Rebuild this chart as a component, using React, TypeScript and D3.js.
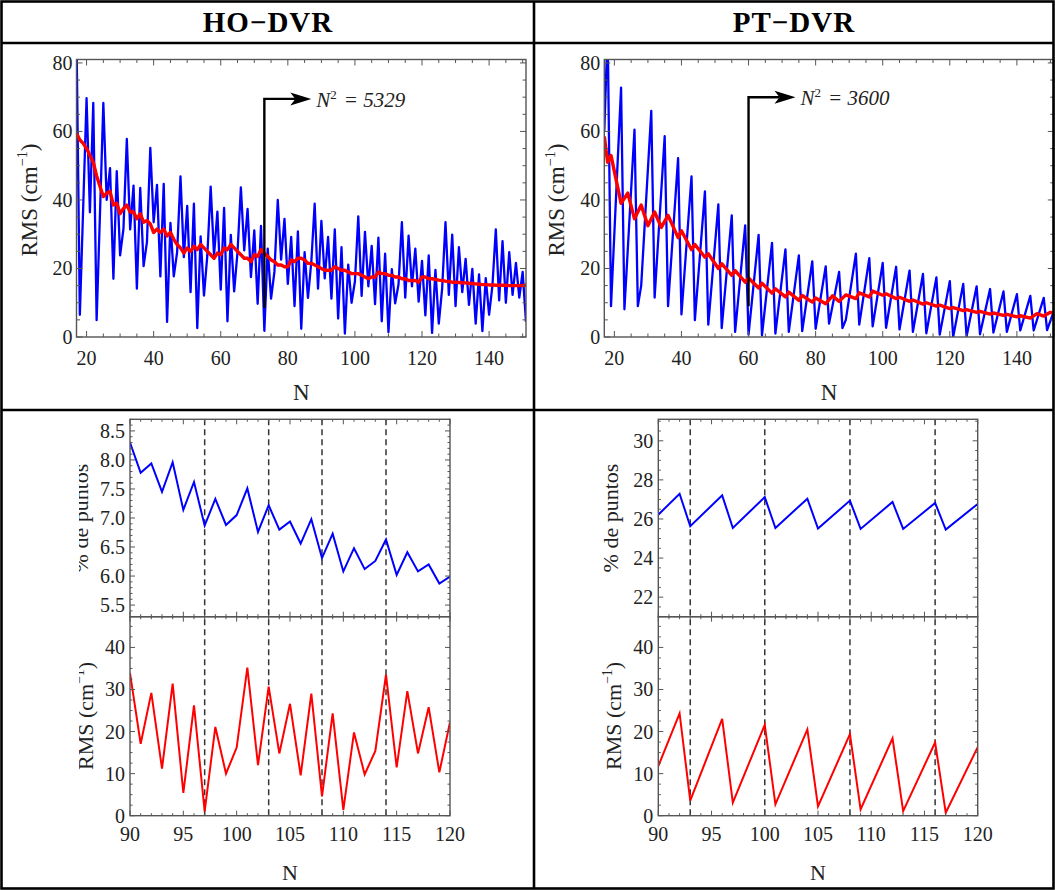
import React, { useEffect, useRef } from 'react';
import * as d3 from 'd3';

const W = 1055;
const H = 890;
const FONT = "'Liberation Serif', 'Times New Roman', serif";

// ---------- header ----------
const headers = ['HO\u2212DVR', 'PT\u2212DVR'];

// ---------- top panels (N = 17 ... 151) ----------
const hoStartN = 17;
const hoRmsAll = [
  88, 6.5, 38, 69.7, 36.4, 68.3, 4.9, 36, 68.3, 40,
  49.3, 17, 48.4, 23.8, 31.6, 57.8, 31.4, 44.2, 14.1, 43.5,
  20.7, 27.7, 55.2, 33.5, 44.4, 17.7, 44.7, 4.4, 33.3, 17.7,
  24.8, 46.9, 23.3, 38.3, 13.1, 38.9, 2.6, 29.4, 12.1, 23.8,
  43.9, 23.8, 36.6, 13.8, 37.7, 4.6, 29.8, 13.3, 24.8, 43.7,
  25.3, 37.4, 17.5, 31.1, 9.7, 32.4, 1.8, 25.8, 11.2, 19,
  40, 22.6, 34.5, 15.5, 29.2, 9, 30.8, 2.4, 24.8, 11.4,
  21.9, 38.9, 14.1, 33.9, 17.1, 29.2, 11.2, 31.4, 5.4, 26.2,
  1.0, 21.1, 10, 16.2, 35.2, 12, 30.7, 14.8, 26.6, 9.6,
  29, 4.6, 24.3, 1.4, 19.8, 9.8, 15.4, 33.5, 11.5, 29.6,
  14.8, 25.8, 10.3, 22.2, 6.3, 23.8, 1.2, 19.6, 3.9, 14.1,
  33.5, 12.3, 29.9, 9, 26.2, 13.1, 22.8, 9.4, 19.9, 3.9,
  18.3, 1.7, 17.2, 6.5, 15.1, 31.4, 10.7, 28, 10, 24.8,
  12.3, 21.6, 11.5, 19, 4.4,
];
const hoAvgAll = [
  59.5, 57.5, 56.5, 55, 53, 51, 47, 44, 41, 42,
  42.5, 38.5, 39, 36, 37.5, 38.5, 36.5, 36.5, 34.5, 36,
  33.5, 34, 33, 30.5, 31.5, 30.5, 31.5, 29.5, 30.5, 28.5,
  27, 26, 24.5, 26, 25, 26.5, 25.5, 27, 26, 25,
  24, 23, 24.5, 24, 26, 25.5, 27, 26, 25, 24,
  23, 23, 22, 24, 23.5, 25.5, 24.5, 23.5, 22.5, 22,
  21, 21, 20.5, 20.5, 22.5, 22, 23, 23, 22.5, 21.5,
  21.5, 21, 20.5, 20, 19.5, 19.5, 19.5, 20.5, 20, 19.5,
  19.5, 19, 18.5, 18.5, 18.5, 18, 17.5, 17, 17.5, 17.5,
  19, 18.5, 18.5, 18, 18, 17.5, 17.5, 17, 17, 16.5,
  16.5, 16.5, 16, 17.5, 17.5, 17, 17, 16.8, 16.6, 16.5,
  16.3, 16.2, 16, 16, 15.9, 15.8, 15.8, 15.7, 15.6, 15.5,
  15.4, 15.3, 15.3, 15.2, 15.2, 15.1, 15.1, 15.1, 15.1, 15,
  15, 15, 15, 15, 15.2,
];

const ptBlueN = [
  17, 18, 19, 22, 23, 26, 27, 28, 31, 32,
  35, 36, 39, 40, 43, 44, 47, 48, 51, 52,
  55, 56, 59, 60, 63, 64, 67, 68, 71, 72,
  75, 76, 79, 80, 83, 84, 87, 88, 89, 92,
  93, 96, 97, 100, 101, 104, 105, 108, 109, 112,
  113, 116, 117, 120, 121, 124, 125, 128, 129, 132,
  133, 136, 137, 140, 141, 144, 145, 148, 149, 151,
];
const ptBlueV = [
  60, 90, 9, 72.8, 8.1, 60.5, 9, 15, 66, 11.5,
  58.6, 9, 52.2, 6.6, 46.9, 4.9, 42.5, 3.6, 38.7, 2.6,
  35.5, 1.5, 32.6, 0.7, 29.8, 0.5, 27.5, 1, 25.6, 1.5,
  23.8, 1.7, 22.1, 2.4, 20.6, 3.9, 19, 2.6, 5, 24.3,
  3.6, 23, 3.1, 21.6, 2.7, 20.5, 2.2, 19.4, 1.5, 18.4,
  1.1, 17.4, 0.7, 16.3, 0, 15.5, 0.2, 14.8, 0.8, 14,
  1.3, 13.3, 1.5, 12.5, 1.9, 12, 1.9, 11.4, 2, 7.5,
];
const ptRedN = [
  17, 18, 19, 22, 24, 26, 28, 30, 32, 34,
  36, 39, 40, 43, 44, 47, 48, 51, 52, 55,
  56, 59, 60, 63, 64, 67, 68, 71, 72, 75,
  76, 79, 80, 83, 85, 87, 89, 92, 93, 96,
  97, 100, 101, 104, 105, 108, 109, 112, 113, 116,
  117, 120, 121, 124, 125, 128, 129, 132, 133, 136,
  137, 140, 141, 144, 146, 148, 150, 151,
];
const ptRedV = [
  58.5, 51, 53, 39, 42, 34.5, 38.5, 32.5, 36.5, 32,
  35.5, 29, 31, 25.5, 27, 23.3, 24.3, 20, 21.4, 18,
  19.4, 16, 17.2, 14.3, 15.7, 12.8, 14.1, 11.7, 13.1, 10.7,
  12.1, 10.2, 11.4, 9.7, 12, 10.4, 12.3, 11.2, 12.9, 11.7,
  13.4, 12.2, 12.6, 11.2, 11.6, 10.4, 10.8, 9.6, 10, 9,
  9.3, 8.3, 8.6, 7.7, 8, 7.2, 7.5, 6.7, 7, 6.3,
  6.6, 5.9, 6.2, 5.5, 6.8, 6.1, 7.2, 7,
];

const topXTicks = [20, 40, 60, 80, 100, 120, 140];
const topYTicks = [0, 20, 40, 60, 80];

// annotation: N at which N^2 is reached, label
const annHO = { n: 73, lowV: 8.5, highV: 69.5, tipN: 87, text: '5329' };
const annPT = { n: 60, lowV: 9, highV: 70, tipN: 74, text: '3600' };

// ---------- bottom panels (N = 90 ... 120) ----------
const hoZoomN = [
  90, 91, 92, 93, 94, 95, 96, 97, 98, 99, 100, 101, 102, 103, 104, 105,
  106, 107, 108, 109, 110, 111, 112, 113, 114, 115, 116, 117, 118, 119, 120,
];
const hoZoomPct = [
  8.3, 7.78, 7.94, 7.45, 7.96, 7.14, 7.62, 6.87, 7.33, 6.88, 7.05, 7.51, 6.76, 7.22, 6.8, 6.94,
  6.56, 6.98, 6.31, 6.73, 6.08, 6.48, 6.12, 6.26, 6.63, 6.02, 6.41, 6.08, 6.2, 5.87, 5.99,
];
const hoZoomRms = [
  33.9, 17.1, 29.2, 11.2, 31.4, 5.4, 26.2, 1.0, 21.1, 10, 16.2, 35.2, 12, 30.7, 14.8, 26.6,
  9.6, 29, 4.6, 24.3, 1.4, 19.8, 9.8, 15.4, 33.5, 11.5, 29.6, 14.8, 25.8, 10.3, 22.2,
];
const ptZoomN = [90, 92, 93, 96, 97, 100, 101, 104, 105, 108, 109, 112, 113, 116, 117, 120];
const ptZoomPct = [
  26.22, 27.29, 25.63, 27.21, 25.54, 27.12, 25.54, 27.04, 25.51, 26.94, 25.49, 26.87, 25.49, 26.82, 25.46, 26.77,
];
const ptZoomRms = [11.8, 24.3, 3.6, 23, 3.1, 21.6, 2.7, 20.5, 2.2, 19.4, 1.5, 18.4, 1.1, 17.4, 0.7, 16.3];

const hoDashed = [97, 103, 108, 114];
const ptDashed = [93, 100, 108, 116];

const botXTicks = [90, 95, 100, 105, 110, 115, 120];
const hoPctTicks = [5.5, 6.0, 6.5, 7.0, 7.5, 8.0, 8.5];
const ptPctTicks = [22, 24, 26, 28, 30];
const rmsTicks = [0, 10, 20, 30, 40];

type Sc = d3.ScaleLinear<number, number>;

function near(a: number, list: number[]) {
  return list.some((b) => Math.abs(a - b) < 1e-6);
}

function frame(
  g: any, x: Sc, y: Sc,
  xMaj: number[], xStep: number, yMaj: number[], yStep: number,
  majLen: number, minLen: number,
) {
  const [xa, xb] = x.range();
  const [ya, yb] = y.range();
  const [dx0, dx1] = x.domain();
  const [dy0, dy1] = y.domain();
  const col = '#555';
  const seg = (x1: number, y1: number, x2: number, y2: number) =>
    g.append('line').attr('x1', x1).attr('y1', y1).attr('x2', x2).attr('y2', y2)
      .attr('stroke', col).attr('stroke-width', 1);
  const xMinor = d3.range(Math.ceil(dx0 / xStep) * xStep, dx1 + 1e-9, xStep);
  xMinor.forEach((v) => {
    const L = near(v, xMaj) ? majLen : minLen;
    seg(x(v), ya, x(v), ya - L);
    seg(x(v), yb, x(v), yb + L);
  });
  const yMinor = d3.range(Math.ceil((dy0 - 1e-9) / yStep) * yStep, dy1 + 1e-9, yStep);
  yMinor.forEach((v) => {
    const L = near(v, yMaj) ? majLen : minLen;
    seg(xa, y(v), xa + L, y(v));
    seg(xb, y(v), xb - L, y(v));
  });
  g.append('rect').attr('x', xa).attr('y', yb).attr('width', xb - xa).attr('height', ya - yb)
    .attr('fill', 'none').attr('stroke', col).attr('stroke-width', 1.4);
}

function clip(defs: any, id: string, x: Sc, y: Sc) {
  const [xa, xb] = x.range();
  const [ya, yb] = y.range();
  defs.append('clipPath').attr('id', id).append('rect')
    .attr('x', xa).attr('y', yb).attr('width', xb - xa).attr('height', ya - yb);
  return `url(#${id})`;
}

function rmsTitle(g: any, cx: number, cy: number, fs: number) {
  const t = g.append('text')
    .attr('transform', `translate(${cx},${cy}) rotate(-90)`)
    .attr('text-anchor', 'middle')
    .style('font-family', FONT).style('font-size', `${fs}px`).attr('fill', '#222');
  t.append('tspan').text('RMS (cm');
  t.append('tspan').attr('dy', -fs * 0.42).style('font-size', `${fs * 0.62}px`).text('\u22121');
  t.append('tspan').attr('dy', fs * 0.42).text(')');
}

function xLabels(g: any, x: Sc, ticks: number[], baseY: number, fs: number) {
  ticks.forEach((v) => {
    g.append('text').attr('x', x(v)).attr('y', baseY).attr('text-anchor', 'middle')
      .style('font-family', FONT).style('font-size', `${fs}px`).attr('fill', '#222').text(String(v));
  });
}
function yLabels(g: any, y: Sc, ticks: number[], rightX: number, fs: number, fmt: (v: number) => string) {
  ticks.forEach((v) => {
    g.append('text').attr('x', rightX).attr('y', y(v)).attr('text-anchor', 'end')
      .attr('dominant-baseline', 'central')
      .style('font-family', FONT).style('font-size', `${fs}px`).attr('fill', '#222').text(fmt(v));
  });
}

function App() {
  const ref = useRef<SVGSVGElement | null>(null);

  useEffect(() => {
    const svg = d3.select(ref.current);
    svg.selectAll('*').remove();
    const defs = svg.append('defs');
    svg.append('rect').attr('width', W).attr('height', H).attr('fill', '#fff');

    const pairLine = (x: Sc, y: Sc) =>
      d3.line<[number, number]>().x((d) => x(d[0])).y((d) => y(d[1]));

    // ---------------- TOP PANELS ----------------
    const topCfg = [
      { x0: 76.5, x1: 526, id: 'tl' },
      { x0: 604.3, x1: 1053.8, id: 'tr' },
    ];
    topCfg.forEach((c, k) => {
      const x = d3.scaleLinear().domain([17, 151]).range([c.x0, c.x1]);
      const y = d3.scaleLinear().domain([0, 81]).range([337, 59.5]);
      const g = svg.append('g');
      const cp = clip(defs, `clip-${c.id}`, x, y);
      const line = pairLine(x, y);

      let blue: [number, number][];
      let red: [number, number][];
      if (k === 0) {
        blue = hoRmsAll.map((v, i) => [hoStartN + i, v]);
        red = hoAvgAll.map((v, i) => [hoStartN + i, v]);
      } else {
        blue = ptBlueV.map((v, i) => [ptBlueN[i], v]);
        red = ptRedV.map((v, i) => [ptRedN[i], v]);
      }
      g.append('path').datum(blue).attr('d', line).attr('fill', 'none')
        .attr('stroke', '#0000ff').attr('stroke-width', 2.3).attr('stroke-linejoin', 'round')
        .attr('clip-path', cp);
      g.append('path').datum(red).attr('d', line).attr('fill', 'none')
        .attr('stroke', '#ff0000').attr('stroke-width', 3.4).attr('stroke-linejoin', 'round')
        .attr('clip-path', cp);

      frame(g, x, y, topXTicks, 5, topYTicks, 5, 6, 3.5);

      // annotation arrow
      const a = k === 0 ? annHO : annPT;
      const ax = x(a.n);
      const ay = y(a.highV);
      const tipX = x(a.tipN);
      g.append('path')
        .attr('d', `M${ax},${y(a.lowV)} L${ax},${ay} L${tipX - 16},${ay}`)
        .attr('fill', 'none').attr('stroke', '#000').attr('stroke-width', 2.4);
      g.append('path')
        .attr('d', `M${tipX},${ay} L${tipX - 21},${ay - 6.5} L${tipX - 16},${ay} L${tipX - 21},${ay + 6.5} Z`)
        .attr('fill', '#000');
      const t = g.append('text').attr('x', tipX + 5).attr('y', ay + 8)
        .style('font-family', FONT).style('font-size', '21px').style('font-style', 'italic')
        .attr('fill', '#222');
      t.append('tspan').text('N');
      t.append('tspan').attr('dy', -8).style('font-size', '13px').style('font-style', 'normal').text('2');
      t.append('tspan').attr('dy', 8).attr('dx', 7).text('= ' + a.text);

      // labels
      xLabels(g, x, topXTicks, 365, 20);
      yLabels(g, y, topYTicks, c.x0 - 4, 20, (v) => String(v));
      g.append('text').attr('x', (c.x0 + c.x1) / 2).attr('y', 400).attr('text-anchor', 'middle')
        .style('font-family', FONT).style('font-size', '23px').attr('fill', '#222').text('N');
      rmsTitle(g, c.x0 - 40, 200, 23);
    });

    // clip for the partially hidden titles of the bottom-left panel
    defs.append('clipPath').attr('id', 'clip-bl-title').append('rect')
      .attr('x', 79).attr('y', 410).attr('width', 60).attr('height', 470);

    // ---------------- BOTTOM PANELS ----------------
    const botCfg = [
      { x0: 130, x1: 450, id: 'bl' },
      { x0: 658.3, x1: 977.7, id: 'br' },
    ];
    botCfg.forEach((c, k) => {
      const x = d3.scaleLinear().domain([90, 120]).range([c.x0, c.x1]);
      const yP = k === 0
        ? d3.scaleLinear().domain([5.3, 8.7]).range([616.7, 419.3])
        : d3.scaleLinear().domain([21, 31.1]).range([616.7, 419.3]);
      const yR = d3.scaleLinear().domain([0, 47.3]).range([815.7, 616.7]);
      const g = svg.append('g');
      const cpP = clip(defs, `clip-${c.id}-p`, x, yP);
      const cpR = clip(defs, `clip-${c.id}-r`, x, yR);

      const nArr = k === 0 ? hoZoomN : ptZoomN;
      const pArr = k === 0 ? hoZoomPct : ptZoomPct;
      const rArr = k === 0 ? hoZoomRms : ptZoomRms;
      const dashed = k === 0 ? hoDashed : ptDashed;

      // dashed guide lines
      dashed.forEach((v) => {
        g.append('line').attr('x1', x(v)).attr('x2', x(v)).attr('y1', 419.3).attr('y2', 815.7)
          .attr('stroke', '#333').attr('stroke-width', 1.5).attr('stroke-dasharray', '6,4');
      });

      g.append('path').datum(pArr.map((v, i) => [nArr[i], v] as [number, number]))
        .attr('d', pairLine(x, yP)).attr('fill', 'none').attr('stroke', '#0000ff')
        .attr('stroke-width', 2).attr('stroke-linejoin', 'miter').attr('clip-path', cpP);
      g.append('path').datum(rArr.map((v, i) => [nArr[i], v] as [number, number]))
        .attr('d', pairLine(x, yR)).attr('fill', 'none').attr('stroke', '#ff0000')
        .attr('stroke-width', 2).attr('stroke-linejoin', 'miter').attr('clip-path', cpR);

      const pTicks = k === 0 ? hoPctTicks : ptPctTicks;
      frame(g, x, yP, botXTicks, 1, pTicks, k === 0 ? 0.1 : 0.5, 5, 2.5);
      frame(g, x, yR, botXTicks, 1, rmsTicks, 2.5, 5, 2.5);

      xLabels(g, x, botXTicks, 841, 20);
      yLabels(g, yP, pTicks, c.x0 - 5, 20, k === 0 ? d3.format('.1f') : (v) => String(v));
      yLabels(g, yR, rmsTicks, c.x0 - 5, 20, (v) => String(v));
      g.append('text').attr('x', (c.x0 + c.x1) / 2).attr('y', 880).attr('text-anchor', 'middle')
        .style('font-family', FONT).style('font-size', '22px').attr('fill', '#222').text('N');

      // y titles (wrapped in a group so the left panel's clip works in page coordinates)
      const tg = g.append('g');
      if (k === 0) tg.attr('clip-path', 'url(#clip-bl-title)');
      tg.append('text')
        .attr('transform', `translate(${k === 0 ? c.x0 - 42 : c.x0 - 40},${518}) rotate(-90)`)
        .attr('text-anchor', 'middle')
        .style('font-family', FONT).style('font-size', '22px').attr('fill', '#222')
        .text('% de puntos');
      rmsTitle(tg, c.x0 - 37, 716, 22);
    });

    // ---------------- TABLE GRID ----------------
    const grid = svg.append('g').attr('stroke', '#000').attr('stroke-width', 2.6).attr('fill', 'none');
    grid.append('rect').attr('x', 1.5).attr('y', 1.5).attr('width', 1052).attr('height', 887);
    grid.append('line').attr('x1', 534).attr('x2', 534).attr('y1', 1.5).attr('y2', 888.5);
    grid.append('line').attr('x1', 1.5).attr('x2', 1053.5).attr('y1', 43).attr('y2', 43);
    grid.append('line').attr('x1', 1.5).attr('x2', 1053.5).attr('y1', 410).attr('y2', 410);

    headers.forEach((h, i) => {
      svg.append('text').attr('x', i === 0 ? 268 : 794).attr('y', 32).attr('text-anchor', 'middle')
        .style('font-family', FONT).style('font-size', '29px').style('font-weight', 'bold')
        .style('letter-spacing', '1px').attr('fill', '#000').text(h);
    });
  }, []);

  return (
    <svg ref={ref} width={W} height={H}
      style={{ position: 'absolute', left: 0, top: 0, display: 'block', background: '#fff' }} />
  );
}

export default App;
